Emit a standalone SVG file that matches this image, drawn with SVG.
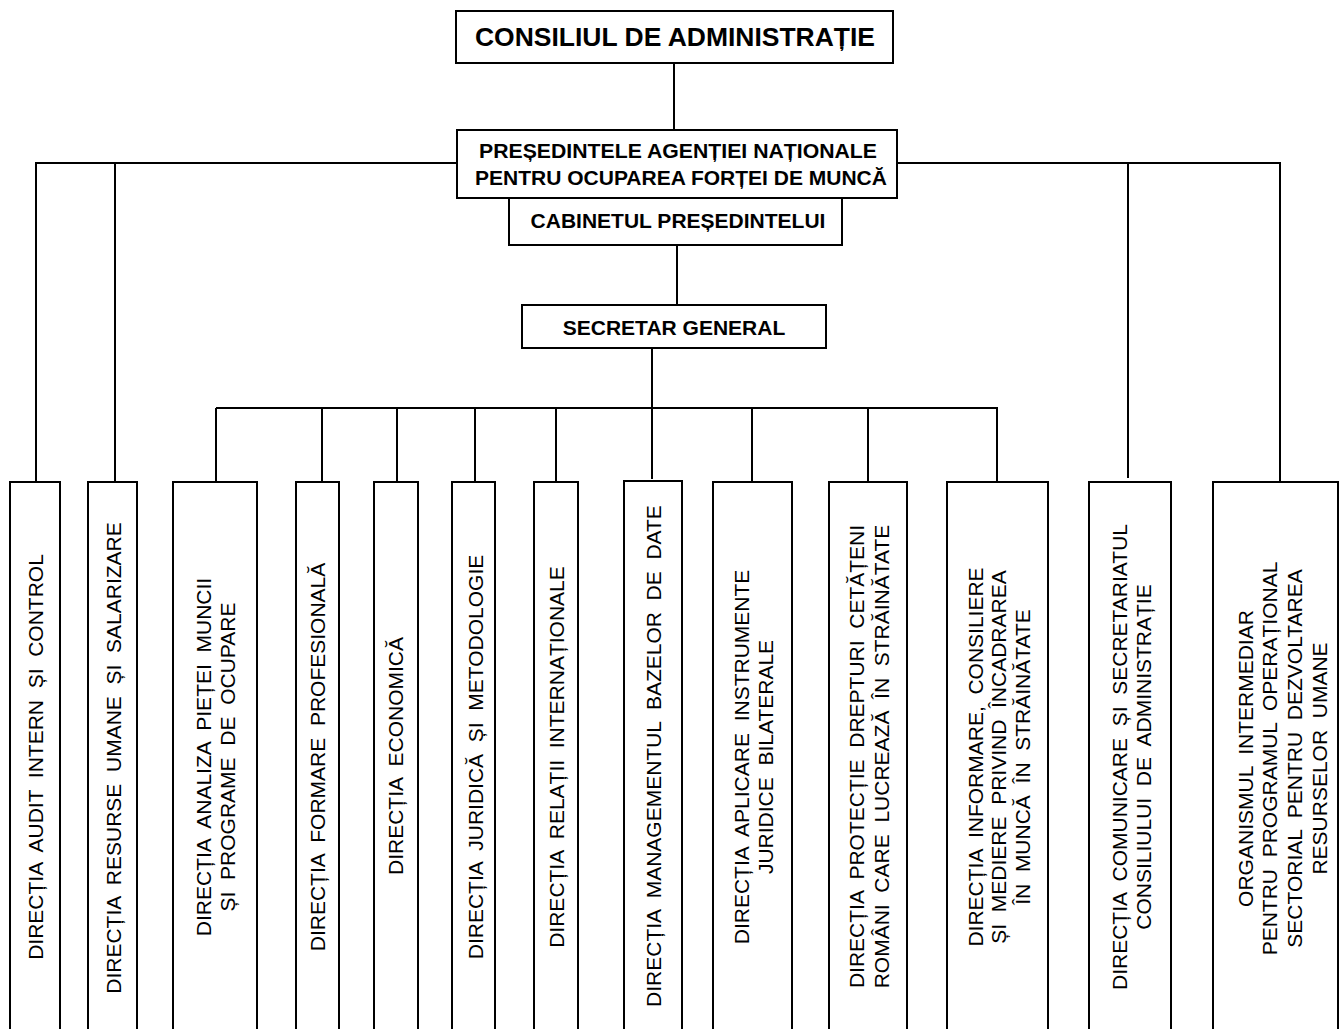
<svg xmlns="http://www.w3.org/2000/svg" width="1340" height="1029" viewBox="0 0 1340 1029">
<style>
.box{fill:#fff;stroke:#000;stroke-width:2}
.ln{fill:none;stroke:#000;stroke-width:2}
.b{font-family:"Liberation Sans",Arial,sans-serif;font-weight:bold;font-size:21px;text-anchor:middle;fill:#000}
.v{font-family:"Liberation Sans",Arial,sans-serif;font-size:21px;text-anchor:middle;fill:#000;word-spacing:5.84px}
</style>
<rect width="1340" height="1029" fill="#fff"/>
<g id="connectors">
<path class="ln" d="M674,63V130"/>
<path class="ln" d="M35,163H457M897,163H1281"/>
<path class="ln" d="M36,163V482M115,163V482M1128,163V478M1280,163V482"/>
<path class="ln" d="M677,245V305"/>
<path class="ln" d="M652,348V479"/>
<path class="ln" d="M216,408H998"/>
<path class="ln" d="M216,408V482M322,408V482M397,408V482M475,408V482M556,408V482M752,408V482M868,408V482M997,408V482"/>
</g>
<g id="consiliu">
<rect class="box" x="456" y="11" width="437" height="52"/>
<text class="b" x="675" y="46" style="font-size:25px" textLength="400" lengthAdjust="spacingAndGlyphs">CONSILIUL DE ADMINISTRAȚIE</text>
</g>
<g id="presedinte">
<rect class="box" x="457" y="130" width="440" height="68"/>
<text class="b" x="678" y="158" textLength="398" lengthAdjust="spacingAndGlyphs">PREȘEDINTELE AGENȚIEI NAȚIONALE</text>
<text class="b" x="681" y="185">PENTRU OCUPAREA FORȚEI DE MUNCĂ</text>
</g>
<g id="cabinet">
<rect class="box" x="509" y="198" width="333" height="47"/>
<text class="b" x="678" y="228">CABINETUL PREȘEDINTELUI</text>
</g>
<g id="secretar">
<rect class="box" x="522" y="305" width="304" height="43"/>
<text class="b" x="674" y="335">SECRETAR GENERAL</text>
</g>
<g id="d1">
<rect class="box" x="10" y="482" width="50" height="560"/>
<g transform="translate(35.5,757) rotate(-90)"><text class="v" y="7.5">DIRECȚIA AUDIT INTERN ȘI CONTROL</text></g>
</g>
<g id="d2">
<rect class="box" x="88" y="482" width="49" height="560"/>
<g transform="translate(113.5,758) rotate(-90)"><text class="v" y="7.5">DIRECȚIA RESURSE UMANE ȘI SALARIZARE</text></g>
</g>
<g id="d3">
<rect class="box" x="173" y="482" width="84" height="560"/>
<g transform="translate(215,757) rotate(-90)"><text class="v" y="-4.5">DIRECȚIA ANALIZA PIEȚEI MUNCII</text><text class="v" y="20">ȘI PROGRAME DE OCUPARE</text></g>
</g>
<g id="d4">
<rect class="box" x="296" y="482" width="43" height="560"/>
<g transform="translate(317.5,757) rotate(-90)"><text class="v" y="7.5">DIRECȚIA FORMARE PROFESIONALĂ</text></g>
</g>
<g id="d5">
<rect class="box" x="374" y="482" width="44" height="560"/>
<g transform="translate(395.5,756) rotate(-90)"><text class="v" y="7.5">DIRECȚIA ECONOMICĂ</text></g>
</g>
<g id="d6">
<rect class="box" x="452" y="482" width="43" height="560"/>
<g transform="translate(475,757) rotate(-90)"><text class="v" y="7.5">DIRECȚIA JURIDICĂ ȘI METODOLOGIE</text></g>
</g>
<g id="d7">
<rect class="box" x="534" y="482" width="44" height="560"/>
<g transform="translate(556,757) rotate(-90)"><text class="v" y="7.5">DIRECȚIA RELAȚII INTERNAȚIONALE</text></g>
</g>
<g id="d8">
<rect class="box" x="624" y="481" width="58" height="560"/>
<g transform="translate(653.5,756) rotate(-90)"><text class="v" y="7.5">DIRECȚIA MANAGEMENTUL BAZELOR DE DATE</text></g>
</g>
<g id="d9">
<rect class="box" x="713" y="482" width="79" height="560"/>
<g transform="translate(753,757) rotate(-90)"><text class="v" y="-4.5">DIRECȚIA APLICARE INSTRUMENTE</text><text class="v" y="19.5">JURIDICE BILATERALE</text></g>
</g>
<g id="d10">
<rect class="box" x="829" y="482" width="78" height="560"/>
<g transform="translate(869,756.5) rotate(-90)"><text class="v" y="-5">DIRECȚIA PROTECȚIE DREPTURI CETĂȚENI</text><text class="v" y="20">ROMÂNI CARE LUCREAZĂ ÎN STRĂINĂTATE</text></g>
</g>
<g id="d11">
<rect class="box" x="947" y="482" width="101" height="560"/>
<g transform="translate(998.5,757) rotate(-90)"><text class="v" y="-16">DIRECȚIA INFORMARE, CONSILIERE</text><text class="v" y="7.5">ȘI MEDIERE PRIVIND ÎNCADRAREA</text><text class="v" y="31">ÎN MUNCĂ ÎN STRĂINĂTATE</text></g>
</g>
<g id="d12">
<rect class="box" x="1089" y="482" width="82" height="560"/>
<g transform="translate(1131.5,757) rotate(-90)"><text class="v" y="-4.5">DIRECȚIA COMUNICARE ȘI SECRETARIATUL</text><text class="v" y="19.5">CONSILIULUI DE ADMINISTRAȚIE</text></g>
</g>
<g id="d13">
<rect class="box" x="1213" y="482" width="125" height="560"/>
<g transform="translate(1282,758.5) rotate(-90)"><text class="v" y="-29.5">ORGANISMUL INTERMEDIAR</text><text class="v" y="-4.8">PENTRU PROGRAMUL OPERAȚIONAL</text><text class="v" y="19.8">SECTORIAL PENTRU DEZVOLTAREA</text><text class="v" y="44.5">RESURSELOR UMANE</text></g>
</g>
</svg>
